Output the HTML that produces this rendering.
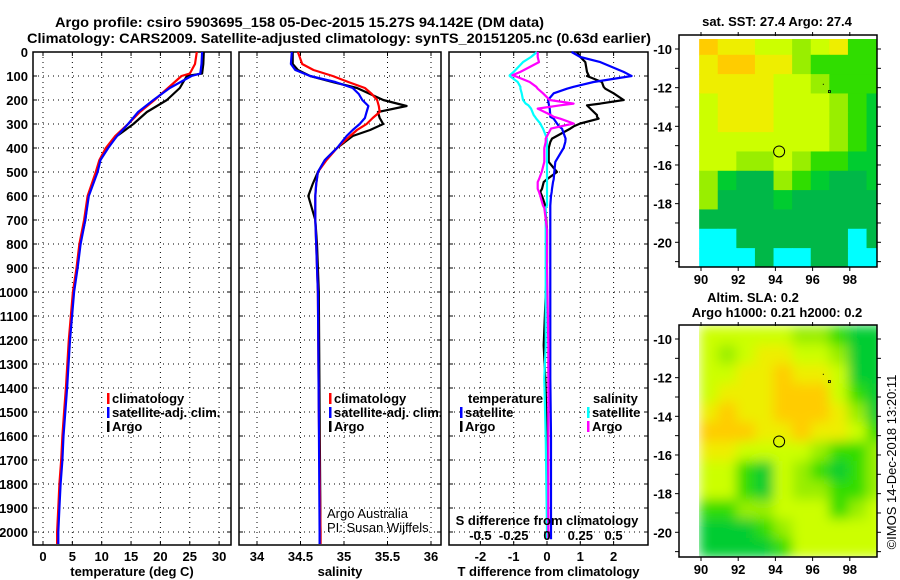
<!DOCTYPE html>
<html><head><meta charset="utf-8"><style>
html,body{margin:0;padding:0;background:#fff;}
svg{display:block;font-family:"Liberation Sans",sans-serif;font-weight:bold;}
</style></head><body>
<svg id="chart" width="900" height="580" viewBox="0 0 900 580" xmlns="http://www.w3.org/2000/svg">
<defs>
<filter id="blur" x="0" y="0" width="1" height="1"><feGaussianBlur stdDeviation="6" edgeMode="duplicate"/></filter>
<clipPath id="slaClip"><rect x="699" y="325" width="178" height="232"/></clipPath>
</defs>
<text x="55" y="27" font-size="14" textLength="489" lengthAdjust="spacingAndGlyphs">Argo profile: csiro 5903695_158 05-Dec-2015 15.27S 94.142E (DM data)</text>
<text x="27" y="43" font-size="14" textLength="624" lengthAdjust="spacingAndGlyphs">Climatology: CARS2009. Satellite-adjusted climatology: synTS_20151205.nc (0.63d earlier)</text>
<g id="g"></g>
</svg>
<script>
// ---- profile data ----
const depthT = [0,50,90,100,150,200,250,300,350,400,450,500,600,700,800,900,1000,1200,1400,1500,1600,1700,1800,1900,2000,2050];
const tempArgo = [27.4,27.3,27.1,24.5,23.3,21.1,17.7,15.4,12.6,10.9,9.7,9.2,7.7,7.2,6.3,5.8,5.2,4.5,4.0,3.7,3.4,3.2,2.9,2.7,2.5,2.5];
const tempClim = [26.2,25.9,25.0,23.6,21.3,19.0,16.5,14.5,12.3,10.7,9.6,9.0,7.6,7.0,6.2,5.7,5.1,4.4,3.9,3.6,3.3,3.1,2.8,2.6,2.4,2.4];
const tempSat  = [27.1,27.0,26.8,25.3,21.6,18.8,16.2,14.5,12.6,11.1,9.8,9.3,7.8,7.2,6.4,5.9,5.3,4.6,4.1,3.8,3.5,3.3,3.0,2.8,2.6,2.6];
const depthS = [0,50,75,100,125,150,175,200,225,250,275,300,325,350,400,450,500,550,600,650,700,800,900,1000,1500,2000,2050];
const salArgo = [34.41,34.41,34.47,34.61,34.87,35.15,35.30,35.45,35.72,35.39,35.41,35.45,35.30,35.10,34.92,34.78,34.70,34.64,34.59,34.63,34.67,34.69,34.70,34.71,34.72,34.73,34.73];
const salClim = [34.47,34.52,34.65,34.87,35.05,35.24,35.32,35.38,35.40,35.41,35.33,35.26,35.15,35.07,34.92,34.80,34.70,34.68,34.67,34.67,34.67,34.68,34.69,34.70,34.71,34.73,34.73];
const salSat  = [34.40,34.39,34.44,34.61,34.90,35.10,35.17,35.21,35.28,35.26,35.24,35.18,35.10,35.03,34.92,34.78,34.70,34.68,34.67,34.67,34.67,34.68,34.69,34.70,34.71,34.72,34.72];
const depthD = [0,21,42,83,97,100,125,145,153,172,200,215,222,236,263,270,278,298,310,319,361,375,400,458,500,530,542,570,583,600,640,650,740,875,1222,1360,1600,2000,2030];
const dTsat  = [0.74,1.0,1.6,2.3,2.5,2.54,1.4,0.8,0.6,0.2,0.03,0.05,0.06,0.08,0.1,0.1,0.2,0.3,0.36,0.45,0.56,0.55,0.5,0.25,0.22,0.2,0.18,0.15,0.14,0.12,0.1,0.1,0.1,0.1,0.1,0.1,0.12,0.12,0.12];
const dTargo = [0.9,1.0,1.15,1.2,1.25,1.2,1.65,1.7,1.75,2.0,2.3,1.6,1.2,1.3,1.5,1.5,1.55,1.0,0.8,0.7,0.15,0.1,0.05,0.05,0.3,0.0,-0.1,-0.15,-0.2,-0.15,-0.05,-0.05,0.0,0.0,-0.1,-0.05,0.0,0.02,0.02];
const dSsat  = [-0.075,-0.12,-0.18,-0.25,-0.28,-0.28,-0.22,-0.2,-0.2,-0.19,-0.18,-0.16,-0.14,-0.12,-0.1,-0.09,-0.08,-0.05,-0.04,-0.03,0.0,0.0,0.0,0.0,0.0,0.0,0.0,0.0,0.0,0.0,0.0,-0.01,-0.01,-0.01,-0.01,-0.02,-0.01,0.0,0.0];
const dSargo = [-0.07,-0.07,-0.06,-0.2,-0.26,-0.24,-0.13,-0.08,-0.07,-0.03,0.02,0.2,0.1,-0.07,0.03,0.05,0.1,0.2,0.1,0.03,-0.01,-0.01,-0.02,-0.02,-0.04,-0.06,-0.07,-0.07,-0.06,-0.05,-0.03,-0.02,0.0,0.0,0.01,0.01,0.01,0.01,0.01];
const depthTicks = [0,100,200,300,400,500,600,700,800,900,1000,1100,1200,1300,1400,1500,1600,1700,1800,1900,2000];
const tempTicks = [0,5,10,15,20,25,30];
const salTicks = [34,34.5,35,35.5,36];
const salGrid = [34,34.5,35,35.5,36];
const dTTicks = [-2,-1,0,1,2];
const dSTicks = [-0.5,-0.25,0,0.25,0.5];
// ---- map data (category index per 1deg cell, rows from north, cols from 90E) ----
const sstGrid = [
[7,6,6,5,5,4,5,6,3,3],[6,7,7,6,6,4,3,3,3,3],[6,6,6,6,5,5,4,3,3,3],[5,6,6,6,5,5,5,4,3,2],
[5,6,6,6,5,5,5,4,3,2],[5,5,5,5,5,5,5,4,3,2],[5,5,4,4,5,4,3,3,2,2],[4,2,1,1,4,3,2,1,1,2],
[4,1,1,1,2,1,1,1,1,1],[1,1,1,1,1,1,1,1,1,1],[0,0,1,1,1,1,1,1,0,1],[0,0,0,1,0,0,1,1,0,0]];
const slaGrid = [
[5,5,5,5,5,4,4,3,2,2],[5,4,5,6,6,5,5,4,2,2],[5,5,6,6,7,6,6,5,2,2],[5,6,6,6,7,7,7,5,3,2],
[6,7,6,6,7,7,7,6,4,2],[7,7,7,6,6,7,6,6,5,3],[6,6,5,5,5,5,4,3,3,4],[5,5,3,2,5,4,3,2,3,4],
[5,5,3,2,5,4,4,3,3,4],[3,3,4,4,5,5,5,3,4,5],[2,2,2,3,4,5,5,5,5,5],[2,2,2,2,3,5,5,5,5,5]];
const lonTicks = [90,92,94,96,98];
const latTicks = [-10,-12,-14,-16,-18,-20];
const floatPos = [94.2,-15.3];

const palette = ["#00ffff","#00b848","#00cc30","#30dd00","#99ee00","#ccff00","#eeee00","#ffcc00","#ffaa00"];
const NS="http://www.w3.org/2000/svg";
const G=document.getElementById('g');
function el(tag,attrs,parent){const e=document.createElementNS(NS,tag);for(const k in attrs)e.setAttribute(k,attrs[k]);(parent||G).appendChild(e);return e;}
function txt(s,x,y,anchor,size,parent,weight){const t=el('text',{x:x,y:y,'text-anchor':anchor||'start','font-size':size||12},parent);if(weight)t.setAttribute('font-weight',weight);t.textContent=s;return t;}

const Y0=52,Y1=545;
const yD=d=>52+d*0.24;

function panel(name,x0,x1,xs,grid,ticks,tickFmt,xlabel){
  const g=el('g',{});
  
  
  depthTicks.forEach(d=>{
    const l=el('line',{x1:x0,x2:x1,y1:yD(d),y2:yD(d),stroke:'#000','stroke-width':1,'stroke-dasharray':'1,4'},g);
    
    
    el('line',{x1:x0,x2:x0+4,y1:yD(d),y2:yD(d),stroke:'#000'},g);
    el('line',{x1:x1-4,x2:x1,y1:yD(d),y2:yD(d),stroke:'#000'},g);
  });
  grid.forEach(v=>{
    const l=el('line',{x1:xs(v),x2:xs(v),y1:Y0,y2:Y1,stroke:'#000','stroke-width':1,'stroke-dasharray':'1,4'},g);
    
    
    el('line',{x1:xs(v),x2:xs(v),y1:Y0,y2:Y0+4,stroke:'#000'},g);
    el('line',{x1:xs(v),x2:xs(v),y1:Y1-4,y2:Y1,stroke:'#000'},g);
  });
  if(ticks){ticks.forEach(v=>{const t=txt(tickFmt(v),xs(v),561,'middle',13,g);
    
    });}
  const r=el('rect',{x:x0,y:Y0,width:x1-x0,height:Y1-Y0,fill:'none',stroke:'#000','stroke-width':1.5},g);
  
  
  if(xlabel){const t=txt(xlabel,(x0+x1)/2,576,'middle',13,g);
    
    }
  return g;
}
function line(xs,xvals,ds,color,name,w){
  let p='';xvals.forEach((v,i)=>{p+=(i?'L':'M')+xs(v).toFixed(1)+','+yD(ds[i]).toFixed(1);});
  const l=el('path',{d:p,fill:'none',stroke:color,'stroke-width':w||2.2,'stroke-linejoin':'round'});
  
  
}
depthTicks.forEach(d=>{const t=txt(String(d),28,yD(d)+5,'end',13);
  
  });

const xT=v=>43+v*5.87;
panel('temperature-panel',33,231,xT,tempTicks,tempTicks,v=>String(v),'temperature (deg C)');
line(xT,tempArgo,depthT,'#000','argo-temperature-line');
line(xT,tempClim,depthT,'#ff0000','climatology-temperature-line');
line(xT,tempSat,depthT,'#0000ff','satellite-temperature-line');
const xS=v=>257+(v-34)*87;
panel('salinity-panel',239,441,xS,salGrid,salTicks,v=>String(v),'salinity');
line(xS,salArgo,depthS,'#000','argo-salinity-line');
line(xS,salClim,depthS,'#ff0000','climatology-salinity-line');
line(xS,salSat,depthS,'#0000ff','satellite-salinity-line');
const xDT=v=>547+v*33.3;
const xDS=v=>547+v*133.2;
panel('difference-panel',449,648,xDT,dTTicks,dTTicks,v=>String(v),'T difference from climatology');
line(xDT,dTargo,depthD,'#000','argo-temperature-difference-line');
line(xDT,dTsat,depthD,'#0000ff','satellite-temperature-difference-line');
line(xDS,dSsat,depthD,'#00ffff','satellite-salinity-difference-line');
line(xDS,dSargo,depthD,'#ff00ff','argo-salinity-difference-line');
{const t=txt('S difference from climatology',547,525,'middle',13);
 
 }
dSTicks.forEach(v=>{const t=txt(v===0?'0':String(v),xDS(v),540,'middle',13);
  
  });

function legendEntry(x,y,color,label,name){
  const m=el('rect',{x:x,y:y-10,width:2.5,height:11,fill:color});
  
  
  const t=txt(label,x+5,y,'start',13);
  
  
}
legendEntry(107,403,'#ff0000','climatology','legend-climatology');
legendEntry(107,417,'#0000ff','satellite-adj. clim.','legend-satellite-adj');
legendEntry(107,431,'#000','Argo','legend-argo');
legendEntry(329,403,'#ff0000','climatology','legend-climatology-2');
legendEntry(329,417,'#0000ff','satellite-adj. clim.','legend-satellite-adj-2');
legendEntry(329,431,'#000','Argo','legend-argo-2');
{const t=txt('temperature',468,403,'start',13);}
legendEntry(460,417,'#0000ff','satellite','legend-temperature-satellite');
legendEntry(460,431,'#000','Argo','legend-temperature-argo');
{const t=txt('salinity',593,403,'start',13);}
legendEntry(587,417,'#00ffff','satellite','legend-salinity-satellite');
legendEntry(587,431,'#ff00ff','Argo','legend-salinity-argo');
{const t=txt('Argo Australia',327,518,'start',13,null,'normal');
 const t2=txt('PI: Susan Wijffels',327,532,'start',13,null,'normal');}

function map(name,top,grid,titles,labY,smooth){
  const g=el('g',{});
  
  
  const lx=v=>701+(v-90)*18.6;
  const ly=v=>top+14+(-10-v)*19.33;
  const x0=679,x1=877,y0=top,y1=top+232;
  const ch=19.33;
  let cg=g;
  if(smooth){const outer=el('g',{'clip-path':'url(#slaClip)'},g);cg=el('g',{filter:'url(#blur)'},outer);}
  grid.forEach((row,r)=>row.forEach((c,k)=>{
    const xa=lx(89.9+k);
    const xb=smooth?lx(90.9+k):Math.min(x1,lx(90.9+k));
    const yaa=smooth?ly(-9.3-r):Math.max(y0+4,ly(-9.3-r));
    const yb=smooth?ly(-10.3-r):Math.min(y1,ly(-10.3-r));
    const cell=el('rect',{x:xa,y:yaa,width:xb-xa+0.5,height:yb-yaa+0.5,fill:palette[c]},cg);
    
    
  }));
  const f=el('rect',{x:x0,y:y0,width:x1-x0,height:y1-y0,fill:'none',stroke:'#000','stroke-width':1.5},g);
  
  
  lonTicks.forEach(v=>{el('line',{x1:lx(v),x2:lx(v),y1:y0-3,y2:y0+1,stroke:'#000'},g);el('line',{x1:lx(v),x2:lx(v),y1:y1,y2:y1+4,stroke:'#000'},g);
    const t=txt(String(v),lx(v),labY,'middle',13,g);});
  for(let v=-10;v>=-21;v--){el('line',{x1:x1,x2:x1+4,y1:ly(v),y2:ly(v),stroke:'#000'},g);el('line',{x1:x0-4,x2:x0,y1:ly(v),y2:ly(v),stroke:'#000'},g);}
  latTicks.forEach(v=>{const t=txt(String(v),672,ly(v)+5,'end',13,g);});
  const c=el('circle',{cx:lx(floatPos[0]),cy:ly(floatPos[1]),r:5.5,fill:'none',stroke:'#000','stroke-width':1},g);
  
  
  el('rect',{x:lx(96.85),y:ly(-12.15),width:2,height:2,fill:'none',stroke:'#000','stroke-width':0.8},g);
  el('rect',{x:lx(96.55),y:ly(-11.8),width:1,height:1,fill:'#000'},g);
  titles.forEach(t0=>{const t=txt(t0[0],t0[1],t0[2],'middle',13,g);});
}
map('sst-map',35,sstGrid,[['sat. SST: 27.4 Argo: 27.4',777,26,'sst-map-title']],284,false);
map('sla-map',325,slaGrid,[['Altim. SLA: 0.2',753,302,'sla-map-title'],['Argo h1000: 0.21 h2000: 0.2',777,317,'sla-map-subtitle']],574,true);
{const t=txt('©IMOS 14-Dec-2018 13:20:11',0,0,'middle',13,null,'normal');
 t.setAttribute('transform','translate(896,462) rotate(-90)');
 
 }
</script>
</body></html>
